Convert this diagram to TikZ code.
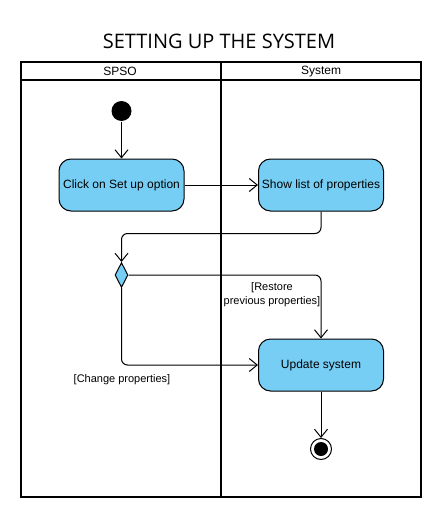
\documentclass[tikz,border=0pt]{standalone}
\usepackage{fontspec}
\setmainfont{Liberation Sans}
\newfontfamily\titlefont{Open Sans}
\usetikzlibrary{arrows.meta,shapes.geometric}
\definecolor{actfill}{HTML}{77CEF4}

\begin{document}
\begin{tikzpicture}[x=1pt,y=-1pt,line width=1pt,
  act/.style={draw,rounded corners=12pt,fill=actfill,minimum width=125pt,minimum height=52pt,font=\fontsize{12}{14}\selectfont},
  flow/.style={>={Straight Barb[length=8pt,width=13pt]},->},
  lane/.style={line width=2pt},
  lanehead/.style={font=\fontsize{12}{14}\selectfont},
  guard/.style={font=\fontsize{11}{14}\selectfont,align=center}]
\useasboundingbox (0,0) rectangle (442,519);
\node[font=\titlefont\fontsize{20}{24}\selectfont] (title) at (219,41) {SETTING UP THE SYSTEM};
% swimlanes
\draw[lane] (21,62) rectangle (421,497);
\draw[lane] (21,80) -- (421,80);
\draw[lane] (221,62) -- (221,497);
\node[lanehead] (spso) at (120,71.5) {SPSO};
\node[lanehead] (sys) at (321,71.5) {System};
% activities
\node[circle,fill,inner sep=0,minimum size=20pt] (start) at (121.5,111) {};
\node[act] (click) at (121.5,185) {Click on Set up option};
\node[act] (show) at (321,185) {Show list of properties};
\node[diamond,draw,fill=actfill,inner sep=0,minimum width=13pt,minimum height=25pt] (dec) at (121.5,275) {};
\node[act] (upd) at (321,365) {Update system};
\node[circle,draw,inner sep=0,minimum size=21pt] (stop) at (321,449) {};
\node[circle,fill,inner sep=0,minimum size=14pt] (stopdot) at (stop) {};
% flows
\draw[flow] (start) -- (click);
\draw[flow] (click) -- (show);
\draw[flow,rounded corners=6pt] (show.south) -- ++(0,22) -| (dec.north);
\draw[flow,rounded corners=6pt] (dec.east) -| (upd.north);
\draw[flow,rounded corners=6pt] (dec.south) |- (upd.west);
\draw[flow] (upd) -- (stop);
\node[guard] (restore) at (272,295) {[Restore\\previous properties]};
\node[guard] (change) at (122,380) {[Change properties]};
\end{tikzpicture}
\end{document}
